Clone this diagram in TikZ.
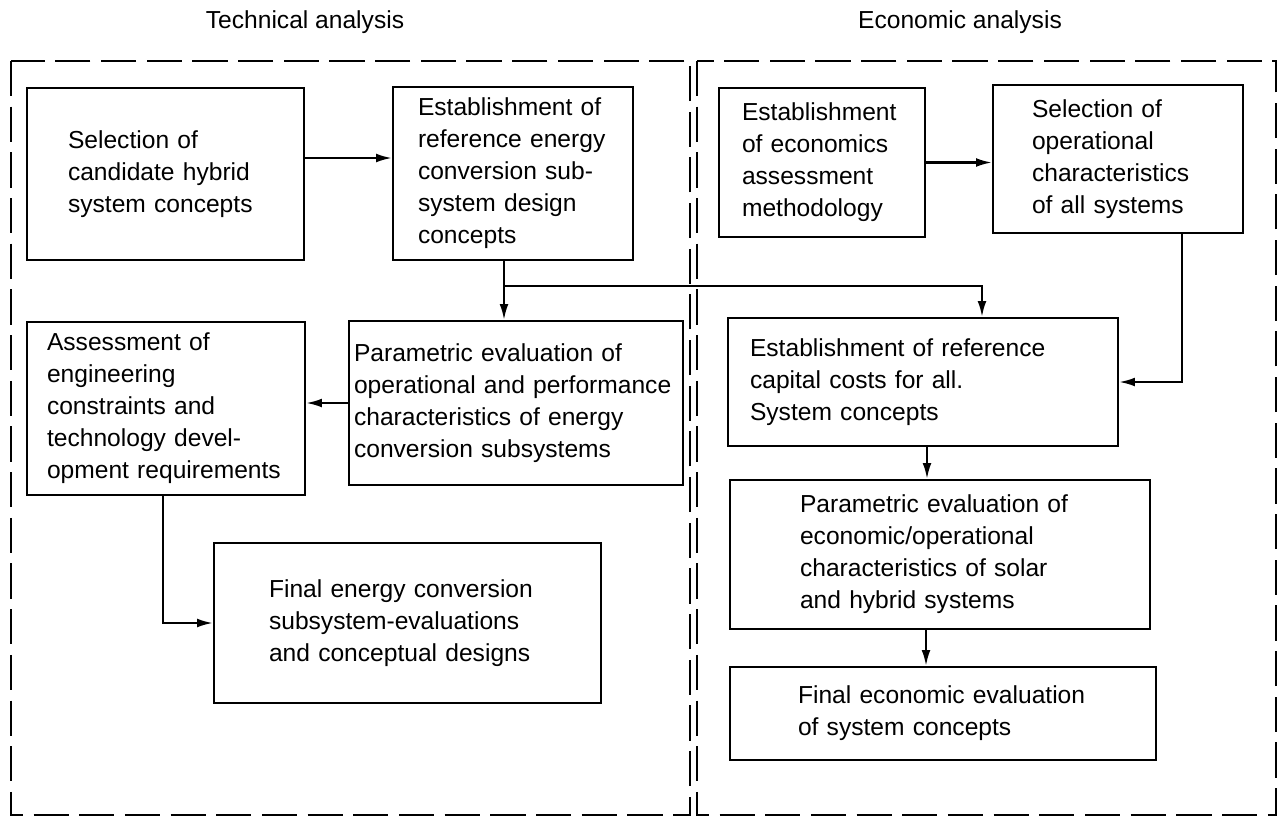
\documentclass[tikz,border=0pt]{standalone}
\usepackage{fontspec}
\setmainfont{Liberation Sans}
\usetikzlibrary{arrows.meta,positioning}

\tikzset{
  stagebox/.style={draw, line width=1.3pt, align=left, inner sep=0pt,
    font=\fontsize{14}{18.2}\selectfont},
  flow/.style={line width=1.2pt, -{Latex[length=9pt,width=5pt]}},
  joinline/.style={line width=1.2pt},
  region/.style={line width=1.6pt, dash pattern=on 20pt off 6pt},
  heading/.style={font=\fontsize{14}{17}\selectfont}
}

\begin{document}
\begin{tikzpicture}[x=0.02cm,y=-0.02cm]
  \useasboundingbox (0,0) rectangle (1281,818);

  \draw[region] (11,61) rectangle (690,815);
  \draw[region] (697,61) rectangle (1276,815);
  \node[heading] (techtitle) at (305,22) {Technical analysis};
  \node[heading] (econtitle) at (960,22) {Economic analysis};

  \node[stagebox, minimum width=5.54cm, minimum height=3.44cm, text width=3.9cm]
    (select) at (165.5,174) {Selection of\\candidate hybrid\\system concepts};
  \node[stagebox, minimum width=4.8cm, minimum height=3.46cm, text width=3.8cm]
    (reference) at (513,173.5) {Establishment of\\reference energy\\conversion sub-\\system design\\concepts};
  \node[stagebox, minimum width=4.12cm, minimum height=2.98cm, text width=3.2cm]
    (method) at (822,162.5) {Establishment\\of economics\\assessment\\methodology};
  \node[stagebox, minimum width=5cm, minimum height=2.96cm, text width=3.44cm]
    (operate) at (1118,159) {Selection of\\operational\\characteristics\\of all systems};
  \node[stagebox, minimum width=6.68cm, minimum height=3.28cm, text width=6.48cm]
    (parametric) at (516,403) {Parametric evaluation of\\operational and performance\\characteristics of energy\\conversion subsystems};
  \node[stagebox, minimum width=5.56cm, minimum height=3.46cm, text width=4.76cm]
    (assess) at (166,408.5) {Assessment of\\engineering\\constraints and\\technology devel-\\opment requirements};
  \node[stagebox, minimum width=7.74cm, minimum height=3.2cm, text width=5.54cm]
    (techfinal) at (407.5,623) {Final energy conversion\\subsystem-evaluations\\and conceptual designs};
  \node[stagebox, minimum width=7.8cm, minimum height=2.56cm, text width=6.92cm]
    (capital) at (923,382) {Establishment of reference\\capital costs for all.\\System concepts};
  \node[stagebox, minimum width=8.4cm, minimum height=2.98cm, text width=5.6cm]
    (econparam) at (940,554.5) {Parametric evaluation of\\economic/operational\\characteristics of solar\\and hybrid systems};
  \node[stagebox, minimum width=8.52cm, minimum height=1.86cm, text width=5.8cm]
    (econfinal) at (943,713.5) {Final economic evaluation\\of system concepts};

  \coordinate (split) at (504,286);
  \draw[flow] ([yshift=0.32cm]select.east) -- ([yshift=0.32cm]select.east -| reference.west);
  \draw[flow] (method.east) -- (method.east -| operate.west);
  \draw[joinline] (reference.south -| split) -- (split);
  \draw[flow] (split) -- (split |- parametric.north);
  \draw[flow] (split) -| ([xshift=1.18cm]capital.north);
  \draw[flow] ([xshift=1.28cm]operate.south) |- (capital.east);
  \draw[flow] (parametric.west) -- (parametric.west -| assess.east);
  \draw[flow] ([xshift=-0.06cm]assess.south) |- (techfinal.west);
  \draw[flow] ([xshift=0.08cm]capital.south) -- ([xshift=0.08cm]capital.south |- econparam.north);
  \draw[flow] ([xshift=-0.28cm]econparam.south) -- ([xshift=-0.28cm]econparam.south |- econfinal.north);
\end{tikzpicture}
\end{document}
